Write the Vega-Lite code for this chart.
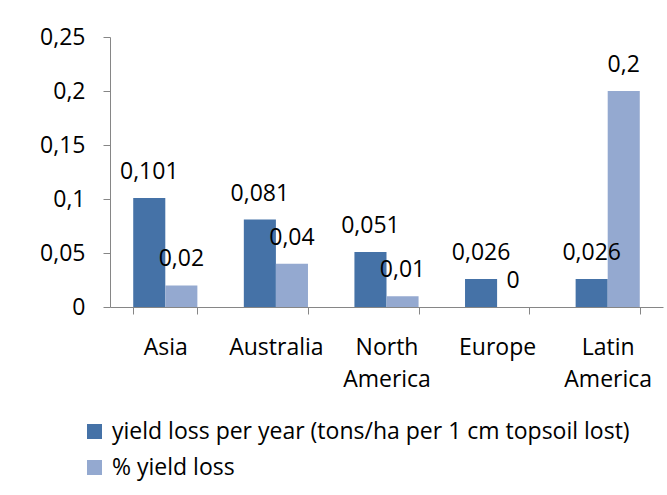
{
  "$schema": "https://vega.github.io/schema/vega-lite/v6.json",
  "width": 553,
  "height": 270,
  "autosize": "none",
  "padding": {"left": 110, "top": 37, "right": 4, "bottom": 188},
  "background": "white",
  "data": {
    "values": [
      {"region": "Asia", "series": "yield loss per year (tons/ha per 1 cm topsoil lost)", "value": 0.101},
      {"region": "Asia", "series": "% yield loss", "value": 0.02},
      {"region": "Australia", "series": "yield loss per year (tons/ha per 1 cm topsoil lost)", "value": 0.081},
      {"region": "Australia", "series": "% yield loss", "value": 0.04},
      {"region": "North America", "series": "yield loss per year (tons/ha per 1 cm topsoil lost)", "value": 0.051},
      {"region": "North America", "series": "% yield loss", "value": 0.01},
      {"region": "Europe", "series": "yield loss per year (tons/ha per 1 cm topsoil lost)", "value": 0.026},
      {"region": "Europe", "series": "% yield loss", "value": 0},
      {"region": "Latin America", "series": "yield loss per year (tons/ha per 1 cm topsoil lost)", "value": 0.026},
      {"region": "Latin America", "series": "% yield loss", "value": 0.2}
    ]
  },
  "encoding": {
    "x": {
      "field": "region",
      "type": "nominal",
      "sort": ["Asia", "Australia", "North America", "Europe", "Latin America"],
      "scale": {"paddingInner": 0.42, "paddingOuter": 0.21},
      "axis": {
        "title": null,
        "labelAngle": 0,
        "tickBand": "extent",
        "tickSize": 7,
        "tickColor": "#868686",
        "domainColor": "#868686",
        "labelFont": "Open Sans",
        "labelFontSize": 23,
        "labelColor": "#000000",
        "labelPadding": 22,
        "labelLineHeight": 32,
        "labelExpr": "split(datum.label, ' ')"
      }
    },
    "xOffset": {
      "field": "series",
      "type": "nominal",
      "sort": ["yield loss per year (tons/ha per 1 cm topsoil lost)", "% yield loss"]
    },
    "y": {
      "field": "value",
      "type": "quantitative",
      "scale": {"domain": [0, 0.25]},
      "axis": {
        "title": null,
        "values": [0, 0.05, 0.1, 0.15, 0.2, 0.25],
        "format": "~g",
        "grid": false,
        "tickSize": 7,
        "tickColor": "#868686",
        "domainColor": "#868686",
        "labelFont": "Open Sans",
        "labelFontSize": 23,
        "labelColor": "#000000",
        "labelPadding": 18
      }
    }
  },
  "layer": [
    {
      "mark": {"type": "bar"},
      "encoding": {
        "color": {
          "field": "series",
          "type": "nominal",
          "scale": {
            "domain": ["yield loss per year (tons/ha per 1 cm topsoil lost)", "% yield loss"],
            "range": ["#4572A7", "#94A9D0"]
          },
          "legend": {
            "title": null,
            "orient": "none",
            "legendX": -27,
            "legendY": 383,
            "symbolType": "square",
            "symbolSize": 225,
            "symbolStrokeWidth": 0,
            "labelFont": "Open Sans",
            "labelFontSize": 23,
            "labelColor": "#000000",
            "labelLimit": 0,
            "labelOffset": 6,
            "rowPadding": 12
          }
        }
      }
    },
    {
      "mark": {"type": "text", "baseline": "alphabetic", "dy": -19, "font": "Open Sans", "fontSize": 23, "color": "#000000"},
      "encoding": {
        "text": {"field": "value", "type": "quantitative", "format": "~g"}
      }
    }
  ],
  "config": {
    "view": {"stroke": null},
    "locale": {
      "number": {"decimal": ",", "thousands": ".", "grouping": [3], "currency": ["", " €"]}
    }
  }
}
